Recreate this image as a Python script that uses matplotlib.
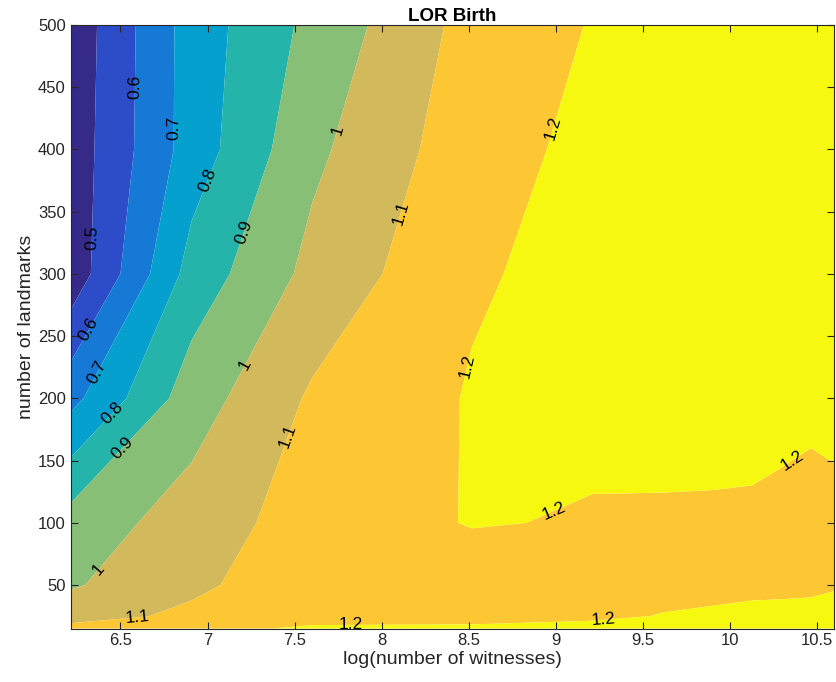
import numpy as np
import matplotlib
matplotlib.use('Agg')
import matplotlib.pyplot as plt

plt.rcParams['font.family'] = ['Liberation Sans', 'DejaVu Sans']

# grid: number of witnesses (log scale on x) and number of landmarks (y)
witnesses = np.array([500, 1000, 2000, 5000, 10000, 15000, 20000, 25000, 30000, 35000, 40000])
landmarks = np.array([15, 25, 50, 100, 200, 300, 400, 500])

# LOR birth values, one row per landmark count
z_15 = [1.128, 1.179, 1.210, 1.210, 1.215, 1.220, 1.225, 1.230, 1.235, 1.240, 1.245]
z_25 = [1.062, 1.120, 1.174, 1.180, 1.191, 1.202, 1.205, 1.210, 1.212, 1.215, 1.220]
z_50 = [0.989, 1.080, 1.163, 1.150, 1.185, 1.185, 1.190, 1.190, 1.190, 1.190, 1.195]
z_100 = [0.943, 1.045, 1.147, 1.205, 1.194, 1.192, 1.190, 1.188, 1.185, 1.185, 1.188]
z_200 = [0.670, 0.952, 1.114, 1.207, 1.220, 1.225, 1.228, 1.228, 1.218, 1.210, 1.213]
z_300 = [0.432, 0.840, 1.029, 1.190, 1.228, 1.230, 1.235, 1.240, 1.240, 1.240, 1.240]
z_400 = [0.440, 0.745, 0.978, 1.159, 1.225, 1.235, 1.240, 1.245, 1.245, 1.245, 1.245]
z_500 = [0.432, 0.744, 0.927, 1.136, 1.205, 1.230, 1.240, 1.245, 1.250, 1.250, 1.250]

levels = [0.4, 0.5, 0.6, 0.7, 0.8, 0.9, 1.0, 1.1, 1.2, 1.3]
line_levels = [0.5, 0.6, 0.7, 0.8, 0.9, 1.0, 1.1, 1.2]
fill_colors = ['#352a87', '#2c4cc8', '#1679d6', '#06a0cf', '#24b4a9',
               '#87bf77', '#d2b95b', '#fdc633', '#f7f80f']

# where MATLAB put the inline labels
label_spots = [(6.59, 450), (6.80, 417), (7.00, 375), (7.20, 334), (7.74, 416),
               (8.09, 350), (8.98, 417), (6.33, 329), (6.32, 255), (6.37, 221),
               (6.45, 189), (6.50, 161), (6.38, 62), (7.20, 228), (7.45, 170),
               (6.60, 24), (7.82, 18), (8.46, 227), (9.00, 106), (10.34, 153),
               (9.27, 22)]

X, Y = np.meshgrid(np.log(witnesses), landmarks)
Z = np.array([z_15, z_25, z_50, z_100, z_200, z_300, z_400, z_500])

fig = plt.figure(figsize=(8.36, 6.82), dpi=100)
ax = fig.add_axes([0.0846, 0.0784, 0.9130, 0.8849])

ax.contourf(X, Y, Z, levels=levels, colors=fill_colors, antialiased=True)
cs = ax.contour(X, Y, Z, levels=line_levels, colors='k', linewidths=0)
ax.clabel(cs, fmt=lambda v: f'{v:g}', fontsize=12.5, colors='k',
          manual=label_spots, inline=True)

ax.set_xlim(np.log(witnesses[0]), np.log(witnesses[-1]))
ax.set_ylim(landmarks[0], landmarks[-1])
ax.set_xticks(np.arange(6.5, 10.51, 0.5))
ax.set_xticklabels(['6.5', '7', '7.5', '8', '8.5', '9', '9.5', '10', '10.5'])
ax.set_yticks(np.arange(50, 501, 50))

ax.tick_params(direction='in', top=True, right=True, labelsize=12,
               color='#262626', labelcolor='#262626', length=5, width=0.8)
for s in ax.spines.values():
    s.set_color('#262626')
    s.set_linewidth(0.8)

ax.set_title('LOR Birth', fontsize=13.5, fontweight='bold', pad=3)
ax.set_xlabel('log(number of witnesses)', fontsize=14, color='#262626', labelpad=2)
ax.set_ylabel('number of landmarks', fontsize=14, color='#262626', labelpad=2)

fig.savefig('out.png', dpi=100)
